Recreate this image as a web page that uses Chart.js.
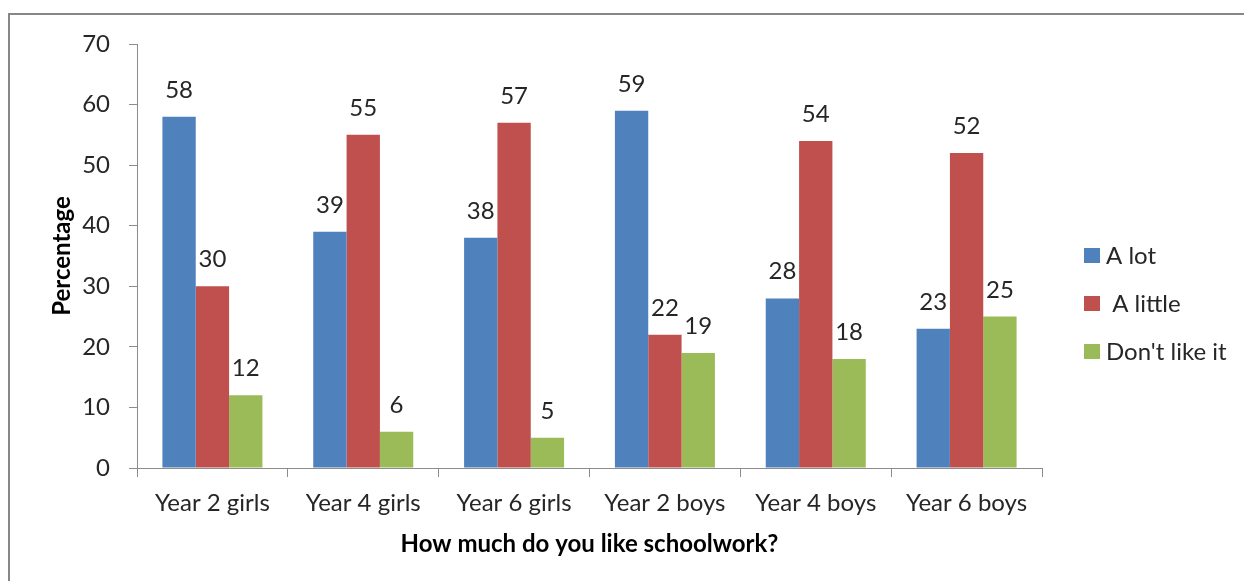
<!DOCTYPE html>
<html>
<head>
<meta charset="utf-8">
<script src="https://cdn.jsdelivr.net/npm/chart.js@4.4.1/dist/chart.umd.min.js"></script>
<style>
    html, body { margin: 0; padding: 0; background: #fff; overflow: hidden; }
    #wrap { position: relative; width: 1244px; height: 581px; }
    #frame {
        position: absolute; left: 8px; top: 13px; right: -10px; bottom: -10px;
        border-left: 2px solid #878787; border-top: 2px solid #878787;
    }
    #chart { position: absolute; left: 0; top: 0; }
</style>
</head>
<body>
<div id="wrap">
    <div id="frame"></div>
    <canvas id="chart" width="1244" height="581"></canvas>
</div>
<script>
// Survey data: how much pupils like schoolwork (%)
const categories = ['Year 2 girls', 'Year 4 girls', 'Year 6 girls', 'Year 2 boys', 'Year 4 boys', 'Year 6 boys'];
const aLot = [58, 39, 38, 59, 28, 23];
const aLittle = [30, 55, 57, 22, 54, 52];
const dontLike = [12, 6, 5, 19, 18, 25];
const yTicks = [0, 10, 20, 30, 40, 50, 60, 70];

const colors = {
    blue: '#4f81bd',
    red: '#c0504d',
    green: '#9bbb59',
    text: '#262626',
    axis: '#8c8c8c'
};
const fontFamily = 'Lato, "Open Sans", sans-serif';
const fontSize = 24;

// value labels above each bar
const valueLabels = {
    id: 'valueLabels',
    afterDatasetsDraw(chart) {
        const ctx = chart.ctx;
        ctx.save();
        ctx.font = fontSize + 'px ' + fontFamily;
        ctx.fillStyle = colors.text;
        ctx.textAlign = 'center';
        ctx.textBaseline = 'alphabetic';
        chart.data.datasets.forEach((ds, i) => {
            chart.getDatasetMeta(i).data.forEach((bar, j) => {
                ctx.fillText(String(ds.data[j]), bar.x, bar.y - 19);
            });
        });
        ctx.restore();
    }
};

// simple legend on the right, like the Excel one
const sideLegend = {
    id: 'sideLegend',
    afterDraw(chart) {
        const ctx = chart.ctx;
        ctx.save();
        ctx.font = fontSize + 'px ' + fontFamily;
        ctx.textBaseline = 'middle';
        ctx.textAlign = 'left';
        chart.data.datasets.forEach((ds, i) => {
            const y = 248 + i * 48;
            ctx.fillStyle = ds.backgroundColor;
            ctx.fillRect(1084, y, 16, 15);
            ctx.fillStyle = colors.text;
            ctx.fillText(ds.label, 1106, y + 8);
        });
        ctx.restore();
    }
};

new Chart(document.getElementById('chart'), {
    type: 'bar',
    data: {
        labels: categories,
        datasets: [
            { label: 'A lot', data: aLot, backgroundColor: colors.blue },
            { label: ' A little', data: aLittle, backgroundColor: colors.red },
            { label: "Don't like it", data: dontLike, backgroundColor: colors.green }
        ]
    },
    options: {
        responsive: false,
        animation: false,
        devicePixelRatio: 1,
        layout: { padding: { left: 0, top: 44, right: 202, bottom: 0 } },
        datasets: {
            bar: { categoryPercentage: 0.663, barPercentage: 1.0, borderWidth: 0 }
        },
        plugins: {
            legend: { display: false },
            tooltip: { enabled: false }
        },
        scales: {
            x: {
                afterFit: (scale) => { scale.height = 113; },
                grid: { drawOnChartArea: false, drawTicks: true, tickLength: 9, color: colors.axis },
                border: { display: true, color: colors.axis, width: 1 },
                ticks: {
                    color: colors.text,
                    padding: 12,
                    font: { family: fontFamily, size: fontSize },
                    maxRotation: 0,
                    autoSkip: false
                },
                title: {
                    display: true,
                    text: 'How much do you like schoolwork?',
                    color: '#000',
                    font: { family: fontFamily, size: fontSize, weight: 'bold' },
                    padding: { top: 0, bottom: 22 }
                }
            },
            y: {
                min: 0,
                max: 70,
                afterFit: (scale) => { scale.width = 137; },
                afterBuildTicks: (scale) => { scale.ticks = yTicks.map(v => ({ value: v })); },
                grid: { drawOnChartArea: false, drawTicks: true, tickLength: 8, color: colors.axis },
                border: { display: true, color: colors.axis, width: 1 },
                ticks: {
                    color: colors.text,
                    padding: 19,
                    font: { family: fontFamily, size: fontSize }
                },
                title: {
                    display: true,
                    text: 'Percentage',
                    color: '#000',
                    font: { family: fontFamily, size: fontSize, weight: 'bold' },
                    padding: { top: 48, bottom: 0 }
                }
            }
        }
    },
    plugins: [valueLabels, sideLegend]
});
</script>
</body>
</html>
